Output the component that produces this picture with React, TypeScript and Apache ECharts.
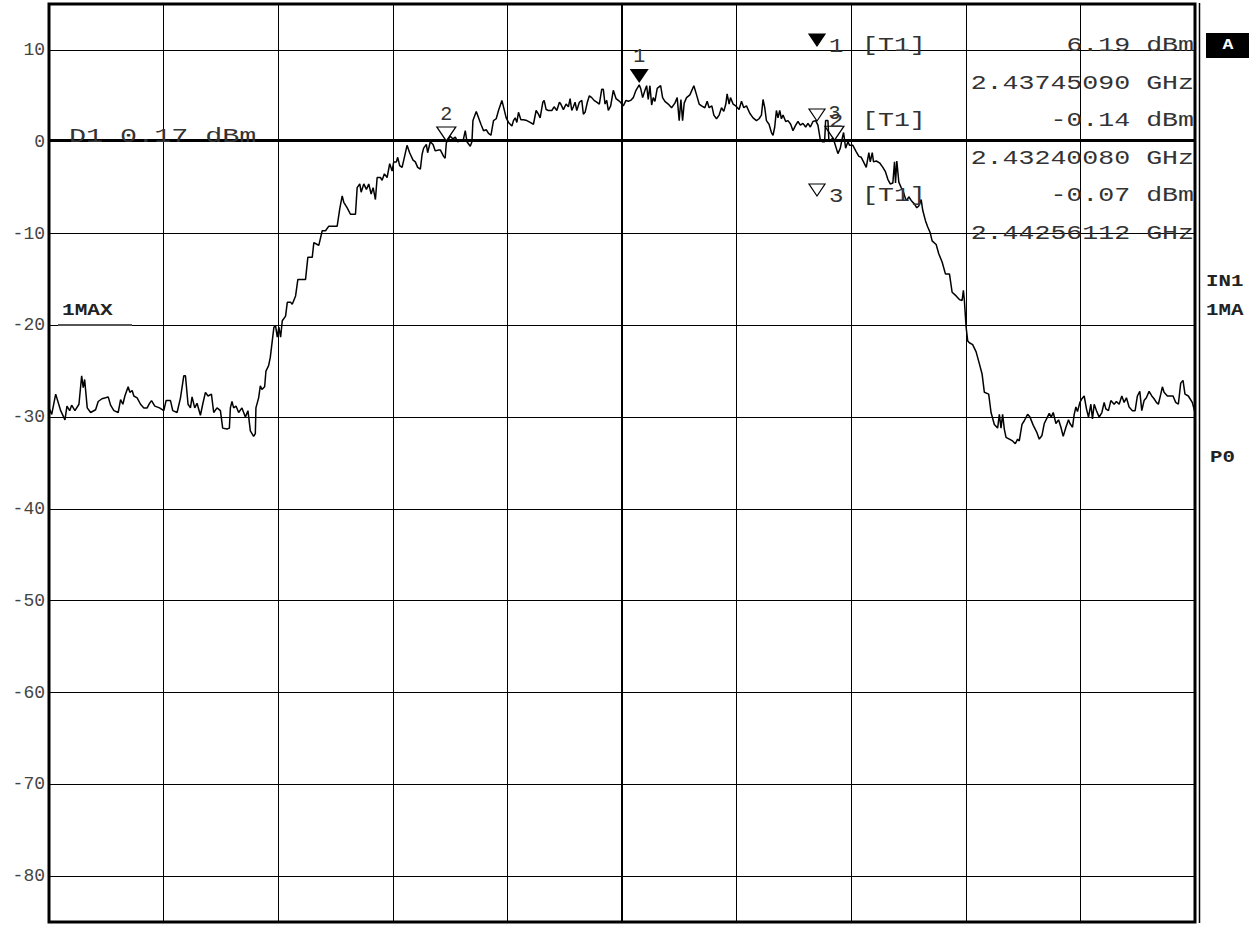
import React, { useEffect, useRef } from 'react';
import * as echarts from 'echarts';

// Spectrum trace: [frequency MHz, level dBm]
const trace: [number, number][] = [
  [2422.000,-29.0],[2422.071,-29.7],[2422.175,-27.5],[2422.306,-29.3],[2422.418,-30.3],[2422.470,-28.8],[2422.541,-29.3],[2422.593,-28.7],[2422.679,-29.3],[2422.784,-28.6],[2422.855,-25.5],[2422.896,-26.8],[2422.933,-25.9],[2423.001,-29.0],[2423.090,-29.5],[2423.220,-29.2],[2423.288,-28.3],[2423.385,-28.0],[2423.482,-27.9],[2423.550,-27.8],[2423.612,-28.7],[2423.699,-29.3],[2423.811,-29.5],[2423.874,-28.1],[2423.934,-28.6],[2423.986,-27.7],[2424.072,-26.7],[2424.117,-27.3],[2424.177,-27.1],[2424.221,-27.7],[2424.307,-27.9],[2424.396,-28.6],[2424.483,-29.0],[2424.569,-29.0],[2424.632,-28.5],[2424.684,-28.2],[2424.770,-28.8],[2424.893,-29.0],[2425.005,-29.3],[2425.065,-28.2],[2425.180,-28.2],[2425.240,-29.3],[2425.353,-29.5],[2425.442,-27.9],[2425.528,-25.5],[2425.572,-25.5],[2425.640,-28.6],[2425.703,-29.0],[2425.745,-27.8],[2425.815,-29.0],[2425.875,-28.5],[2425.964,-29.8],[2426.024,-28.6],[2426.095,-27.3],[2426.163,-27.7],[2426.252,-27.5],[2426.312,-29.5],[2426.398,-29.0],[2426.487,-29.3],[2426.547,-31.2],[2426.659,-31.3],[2426.722,-31.2],[2426.748,-29.0],[2426.790,-28.3],[2426.834,-29.0],[2426.895,-28.8],[2426.965,-29.5],[2427.051,-29.0],[2427.140,-30.0],[2427.208,-29.3],[2427.271,-31.5],[2427.357,-32.1],[2427.401,-31.8],[2427.417,-29.0],[2427.488,-27.9],[2427.532,-26.6],[2427.574,-27.0],[2427.645,-26.7],[2427.679,-25.0],[2427.749,-24.4],[2427.793,-23.5],
  [2427.888,-20.2],[2427.932,-20.1],[2427.976,-21.3],[2428.018,-20.2],[2428.063,-21.3],[2428.107,-19.5],[2428.193,-19.0],[2428.238,-17.5],[2428.324,-17.5],[2428.368,-17.7],[2428.455,-16.8],[2428.515,-15.0],[2428.716,-15.0],[2428.776,-12.6],[2428.891,-12.6],[2428.933,-11.0],[2429.022,-11.2],[2429.063,-11.3],[2429.152,-9.7],[2429.239,-9.7],[2429.325,-9.2],[2429.544,-9.2],[2429.612,-7.3],[2429.675,-5.9],[2429.717,-6.6],[2429.806,-7.2],[2429.892,-7.9],[2430.023,-7.9],[2430.067,-5.0],[2430.135,-4.6],[2430.172,-5.5],[2430.240,-4.6],[2430.310,-5.2],[2430.370,-4.6],[2430.433,-5.7],[2430.485,-5.0],[2430.545,-6.3],[2430.590,-3.9],[2430.676,-3.9],[2430.720,-4.2],[2430.780,-3.5],[2430.851,-3.9],[2430.919,-2.4],[2430.982,-3.2],[2431.024,-2.2],[2431.094,-2.2],[2431.128,-1.7],[2431.180,-2.6],[2431.243,-2.8],[2431.303,-1.7],[2431.373,-0.4],[2431.441,-1.2],[2431.530,-2.0],[2431.590,-2.2],[2431.651,-2.8],[2431.721,-3.0],[2431.766,-1.4],[2431.807,-0.7],[2431.878,-0.3],[2431.912,-1.2],[2431.982,0.0],[2432.053,-0.3],[2432.113,-1.0],[2432.199,-0.9],[2432.244,-0.9],[2432.330,-1.6],[2432.370,-1.8],[2432.401,-0.14],[2432.505,0.6],[2432.576,0.3],[2432.636,0.5],[2432.696,0.0],[2432.767,0.1],[2432.845,0.2],[2432.897,1.2],[2432.941,0.0],[2433.028,-0.5],[2433.072,0.0],[2433.098,2.3],[2433.185,3.3],[2433.245,2.6],[2433.307,1.9],[2433.375,1.2],[2433.446,1.3],[2433.506,0.9],[2433.569,0.7],[2433.636,2.3],[2433.707,2.5],[2433.767,3.4],[2433.856,4.5],[2433.898,3.8],[2433.969,2.6],[2434.029,2.1],[2434.118,1.7],[2434.159,2.3],[2434.204,2.6],[2434.248,2.1],[2434.290,3.2],[2434.353,2.4],[2434.421,2.4],[2434.509,2.3],[2434.596,2.1],[2434.682,1.9],[2434.752,3.4],[2434.813,3.0],[2434.857,2.6],[2434.928,4.3],[2434.962,4.5],[2435.014,3.5],[2435.074,3.4],[2435.163,3.4],[2435.223,3.8],[2435.293,3.4],[2435.362,4.3],[2435.398,4.1],[2435.466,3.5],[2435.536,4.1],[2435.597,3.8],[2435.641,4.7],[2435.685,3.4],[2435.727,3.8],[2435.772,4.3],[2435.816,3.4],[2435.884,4.3],[2435.947,4.5],[2435.989,3.0],[2436.033,3.2],[2436.093,4.3],[2436.145,5.0],[2436.208,4.8],[2436.268,4.5],[2436.338,4.3],[2436.407,4.1],[2436.469,5.7],[2436.511,5.7],[2436.556,4.1],[2436.600,4.5],[2436.642,3.4],[2436.704,3.9],[2436.772,5.6],[2436.843,4.7],[2436.903,4.5],[2436.961,4.3],[2437.034,3.9],[2437.105,4.5],[2437.165,4.4],[2437.227,4.5],[2437.295,4.8],[2437.366,5.6],[2437.451,6.19],[2437.489,5.8],[2437.541,4.8],[2437.601,5.6],[2437.645,6.1],[2437.687,4.6],[2437.731,6.1],[2437.776,4.0],[2437.817,4.8],[2437.862,4.4],[2437.922,5.8],[2438.011,6.1],[2438.063,4.8],[2438.123,4.4],[2438.210,4.1],[2438.298,3.7],[2438.385,4.2],[2438.445,4.8],[2438.497,2.3],[2438.542,4.6],[2438.586,2.3],[2438.628,4.2],[2438.690,4.8],[2438.777,5.1],[2438.881,6.1],[2438.952,5.1],[2439.020,4.1],[2439.083,3.9],[2439.169,3.7],[2439.229,4.4],[2439.281,3.7],[2439.352,3.9],[2439.404,2.9],[2439.474,2.5],[2439.543,2.9],[2439.605,3.7],[2439.665,3.3],[2439.718,4.1],[2439.752,5.2],[2439.804,4.1],[2439.840,4.8],[2439.908,4.1],[2439.979,3.9],[2440.065,3.5],[2440.128,4.4],[2440.188,3.7],[2440.258,3.9],[2440.345,3.1],[2440.431,2.6],[2440.520,2.3],[2440.588,2.5],[2440.650,2.9],[2440.692,4.6],[2440.737,3.7],[2440.781,2.3],[2440.849,1.9],[2440.912,1.0],[2440.954,0.7],[2440.998,1.6],[2441.042,3.4],[2441.084,2.6],[2441.129,3.4],[2441.173,2.5],[2441.215,2.9],[2441.285,2.2],[2441.346,2.3],[2441.416,1.9],[2441.476,1.2],[2441.547,1.8],[2441.607,2.2],[2441.669,1.8],[2441.737,2.0],[2441.808,1.6],[2441.868,2.0],[2441.931,1.6],[2441.999,2.2],[2442.069,2.3],[2442.129,1.8],[2442.192,0.2],[2442.244,0.0],[2442.304,0.0],[2442.330,2.3],[2442.391,2.3],[2442.417,0.0],[2442.522,0.4],[2442.561,-0.07],[2442.652,-1.3],[2442.715,-0.7],[2442.767,0.4],[2442.801,1.0],[2442.854,-0.7],[2442.914,0.0],[2442.958,-0.4],[2443.044,-0.4],[2443.133,-1.1],[2443.201,-1.6],[2443.263,-1.7],[2443.323,-2.2],[2443.394,-2.8],[2443.462,-1.2],[2443.499,-2.2],[2443.551,-1.2],[2443.585,-2.2],[2443.656,-2.1],[2443.742,-2.3],[2443.829,-2.8],[2443.899,-3.3],[2443.959,-4.1],[2444.022,-4.6],[2444.090,-4.5],[2444.134,-2.2],[2444.160,-4.5],[2444.194,-2.1],[2444.247,-4.4],[2444.309,-5.0],[2444.369,-5.5],[2444.421,-6.2],[2444.455,-6.4],[2444.508,-6.0],[2444.570,-6.4],[2444.657,-6.8],[2444.717,-7.2],[2444.769,-7.0],[2444.832,-6.3],[2444.874,-7.5],[2444.944,-8.6],[2445.004,-9.3],[2445.067,-9.9],[2445.119,-10.8],[2445.224,-11.2],[2445.292,-12.2],[2445.380,-13.1],[2445.467,-14.4],[2445.572,-14.4],[2445.642,-16.4],[2445.747,-16.8],[2445.832,-17.2],[2445.903,-17.3],[2445.937,-16.2],[2445.963,-17.3],[2446.008,-20.2],[2446.050,-21.7],[2446.094,-21.9],[2446.180,-22.1],[2446.270,-22.9],[2446.356,-24.2],[2446.426,-25.3],[2446.486,-27.3],[2446.599,-27.5],[2446.661,-29.5],[2446.747,-30.8],[2446.833,-31.2],[2446.878,-29.7],[2446.922,-31.2],[2446.964,-29.7],[2447.008,-31.3],[2447.053,-32.2],[2447.139,-32.4],[2447.225,-32.6],[2447.296,-32.9],[2447.356,-32.4],[2447.400,-32.6],[2447.471,-30.8],[2447.531,-30.4],[2447.618,-29.7],[2447.680,-30.0],[2447.767,-30.9],[2447.853,-31.6],[2447.923,-32.4],[2447.994,-32.0],[2448.054,-30.7],[2448.114,-30.2],[2448.185,-29.6],[2448.237,-30.0],[2448.289,-29.5],[2448.359,-30.7],[2448.428,-30.3],[2448.490,-31.1],[2448.550,-32.1],[2448.621,-31.1],[2448.689,-30.3],[2448.726,-30.7],[2448.794,-31.1],[2448.838,-29.7],[2448.882,-28.9],[2448.924,-29.4],[2448.987,-28.4],[2449.039,-28.0],[2449.099,-27.7],[2449.159,-29.1],[2449.212,-30.0],[2449.274,-28.6],[2449.316,-30.2],[2449.361,-28.6],[2449.421,-29.3],[2449.491,-30.0],[2449.562,-29.5],[2449.622,-28.4],[2449.666,-29.1],[2449.734,-29.3],[2449.797,-28.2],[2449.883,-28.6],[2449.943,-28.3],[2450.014,-28.6],[2450.084,-27.7],[2450.145,-28.4],[2450.205,-27.9],[2450.275,-28.9],[2450.361,-29.3],[2450.432,-29.3],[2450.492,-27.7],[2450.555,-27.2],[2450.607,-29.3],[2450.667,-28.2],[2450.727,-27.9],[2450.798,-27.2],[2450.869,-27.7],[2450.929,-28.0],[2450.989,-28.4],[2451.041,-28.6],[2451.104,-27.5],[2451.146,-26.7],[2451.190,-27.3],[2451.277,-27.7],[2451.365,-27.7],[2451.425,-27.7],[2451.495,-28.4],[2451.564,-28.6],[2451.626,-26.3],[2451.686,-26.0],[2451.738,-27.5],[2451.825,-27.7],[2451.929,-28.4],[2452.000,-29.5],
];

const freqStartMHz = 2422;
const freqStopMHz = 2452;
const freqDivMHz = 3;
const centerFreqMHz = 2437;
const levelMinDbm = -85;
const levelMaxDbm = 15;
const levelGridDbm = [10, 0, -10, -20, -30, -40, -50, -60, -70, -80];
const displayLineDbm = 0.17;

const markerIds = ['1', '2', '3'];
const markerFreqMHz = [2437.4509, 2432.4008, 2442.56112];
const markerLevelDbm = [6.19, -0.14, -0.07];

const sideLabels = ['IN1', '1MA', 'P0'];

const MONO = "'Liberation Mono', 'Courier New', monospace";

function monoText(text: string, x: number, y: number, opt: any = {}) {
  return {
    type: 'text',
    x,
    y,
    scaleX: opt.scaleX ?? 1.33,
    silent: true,
    z: 50,
    style: {
      text,
      fill: opt.fill ?? '#333',
      fontFamily: MONO,
      fontSize: opt.fontSize ?? 20,
      fontWeight: opt.fontWeight ?? 'normal',
      align: opt.align ?? 'left',
      verticalAlign: 'middle',
    },
  };
}

export default function App() {
  const ref = useRef<HTMLDivElement>(null);

  useEffect(() => {
    if (!ref.current) return;
    const chart = echarts.init(ref.current, undefined, { renderer: 'svg' });

    const graphics: any[] = [];
    // marker table
    markerIds.forEach((id, i) => {
      const rowY = 45 + i * 75;
      const filled = i === 0;
      graphics.push({
        type: 'polygon',
        silent: true,
        z: 50,
        shape: { points: [[809, rowY - 11], [825, rowY - 11], [817, rowY + 1]] },
        style: { fill: filled ? '#000' : '#fff', stroke: '#000', lineWidth: 1.2 },
      });
      graphics.push(monoText(id, 829, rowY + 2, { scaleX: 1.2 }));
      graphics.push(monoText('[T1]', 862, rowY));
      graphics.push(monoText(markerLevelDbm[i].toFixed(2) + ' dBm', 1194, rowY, { align: 'right' }));
      graphics.push(monoText((markerFreqMHz[i] / 1000).toFixed(8) + ' GHz', 1194, rowY + 38, { align: 'right' }));
    });
    // display line label
    graphics.push(monoText('D1 ' + displayLineDbm.toFixed(2) + ' dBm', 69, 137, { scaleX: 1.42 }));
    // trace label
    graphics.push({
      type: 'line', silent: true, z: 40,
      shape: { x1: 58, y1: 325, x2: 132, y2: 325 },
      style: { stroke: '#555', lineWidth: 2 },
    });
    graphics.push(monoText('1MAX', 62, 311, { fontWeight: 'bold', fontSize: 16, scaleX: 1.32, fill: '#222' }));
    // right side annotations
    graphics.push({
      type: 'rect', silent: true, z: 50,
      shape: { x: 1206, y: 33, width: 43, height: 25 },
      style: { fill: '#000' },
    });
    graphics.push(monoText('A', 1228, 45, { fontWeight: 'bold', fontSize: 14, scaleX: 1.3, fill: '#fff', align: 'center' }));
    graphics.push(monoText(sideLabels[0], 1206, 282, { fontWeight: 'bold', fontSize: 16, scaleX: 1.3, fill: '#222' }));
    graphics.push(monoText(sideLabels[1], 1206, 311, { fontWeight: 'bold', fontSize: 16, scaleX: 1.3, fill: '#222' }));
    graphics.push(monoText(sideLabels[2], 1210, 458, { fontWeight: 'bold', fontSize: 16, scaleX: 1.3, fill: '#222' }));
    // double right frame line
    graphics.push({
      type: 'line', silent: true, z: 40,
      shape: { x1: 1199.5, y1: 3, x2: 1199.5, y2: 923 },
      style: { stroke: '#000', lineWidth: 1.5 },
    });

    const option: any = {
      animation: false,
      backgroundColor: '#fff',
      grid: {
        left: 49,
        top: 4,
        width: 1146,
        height: 918,
        show: true,
        borderColor: '#000',
        borderWidth: 3,
        backgroundColor: '#fff',
      },
      xAxis: {
        type: 'value',
        min: freqStartMHz,
        max: freqStopMHz,
        interval: freqDivMHz,
        axisLine: { show: false },
        axisTick: { show: false },
        axisLabel: { show: false },
        splitLine: { show: true, lineStyle: { color: '#000', width: 1 } },
      },
      yAxis: {
        type: 'value',
        min: levelMinDbm,
        max: levelMaxDbm,
        interval: 5,
        axisLine: { show: false },
        axisTick: { show: false },
        splitLine: { show: false },
        axisLabel: {
          margin: 4,
          fontFamily: MONO,
          fontSize: 18,
          color: '#444',
          formatter: (v: number) => (levelGridDbm.indexOf(v) >= 0 ? String(v) : ''),
        },
      },
      series: [
        {
          type: 'line',
          data: trace,
          symbol: 'none',
          showSymbol: false,
          lineStyle: { color: '#000', width: 1.5 },
          z: 5,
          markLine: {
            silent: true,
            symbol: ['none', 'none'],
            label: { show: false },
            lineStyle: { color: '#000', width: 1, type: 'solid' },
            emphasis: { disabled: true },
            data: [
              ...levelGridDbm.map((v) => ({ yAxis: v })),
              { yAxis: displayLineDbm, lineStyle: { width: 2, color: '#000', type: 'solid' } },
              { xAxis: centerFreqMHz, lineStyle: { width: 2, color: '#000', type: 'solid' } },
            ],
          },
          markPoint: {
            silent: true,
            symbol: 'path://M0,0L10,0L5,8Z',
            symbolSize: [19, 14],
            symbolOffset: [0, -9],
            label: {
              show: true,
              position: 'top',
              distance: 2,
              formatter: '{b}',
              fontFamily: MONO,
              fontSize: 20,
              color: '#333',
            },
            data: markerIds.map((id, i) => ({
              name: id,
              coord: [markerFreqMHz[i], markerLevelDbm[i]],
              itemStyle: i === 0
                ? { color: '#000' }
                : { color: '#fff', borderColor: '#000', borderWidth: 1.2 },
            })),
          },
        },
      ],
      graphic: graphics,
    };

    chart.setOption(option);
    return () => chart.dispose();
  }, []);

  return (
    <div
      ref={ref}
      style={{ position: 'fixed', left: 0, top: 0, width: 1255, height: 925, background: '#fff' }}
    />
  );
}
